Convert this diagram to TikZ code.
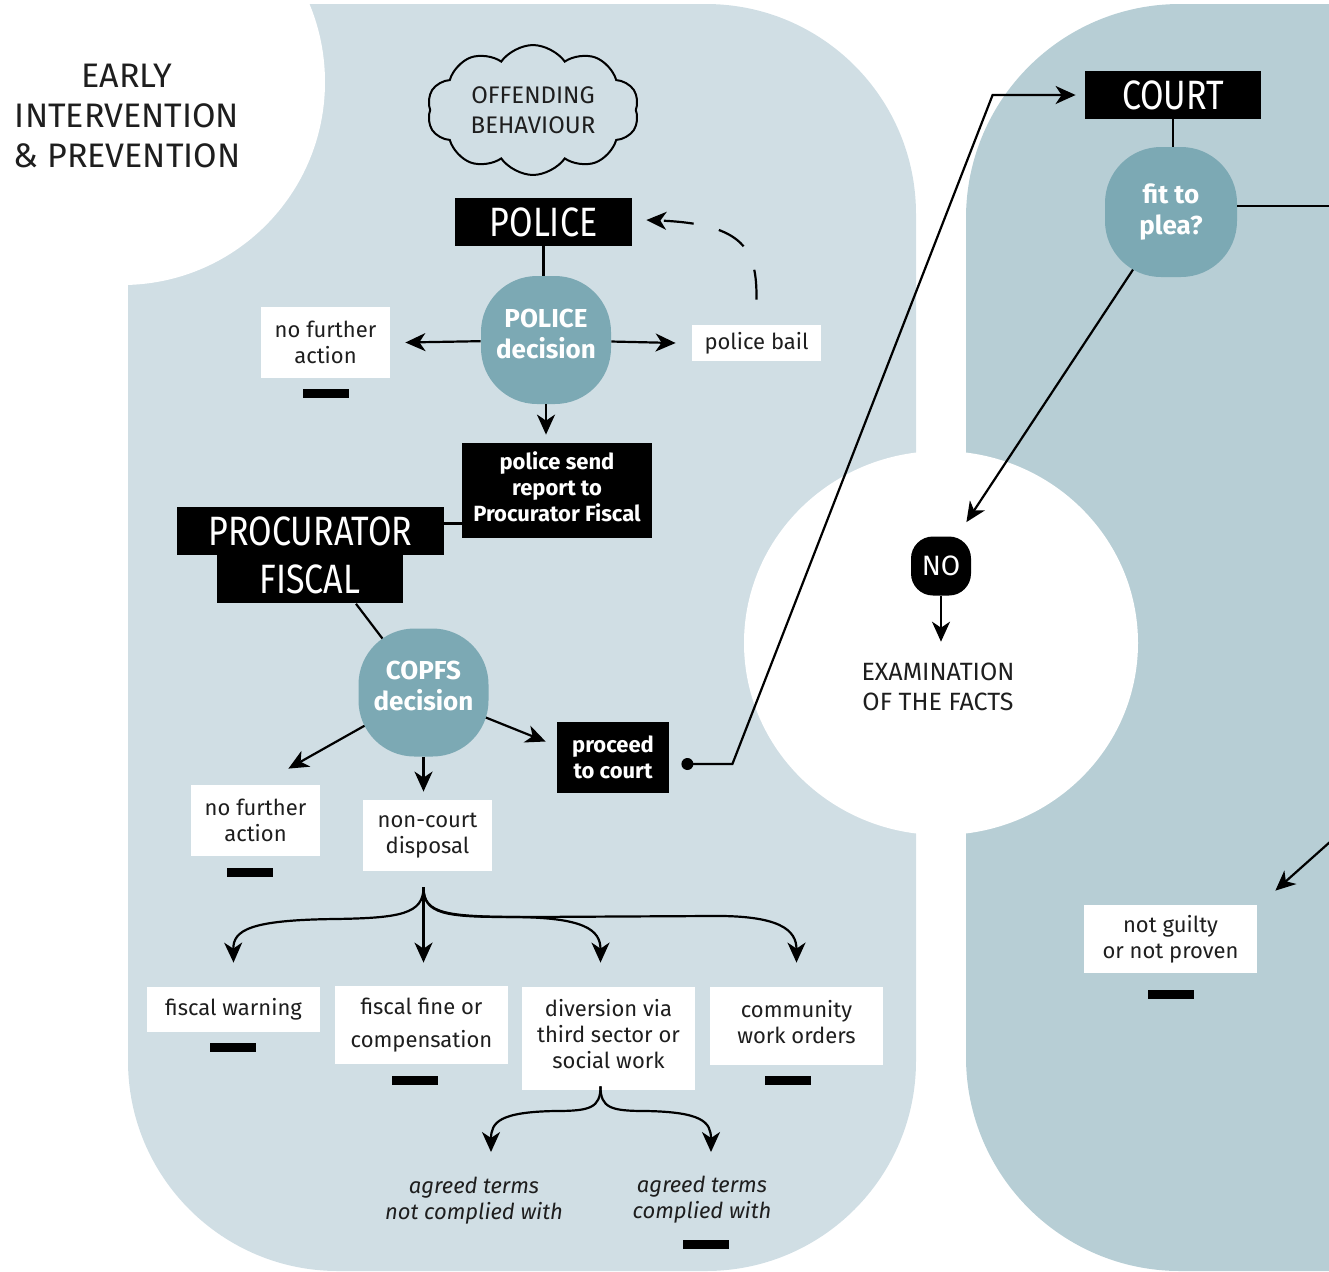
\documentclass[tikz,border=0pt]{standalone}
\usepackage{fontspec}
\setmainfont{Fira Sans}
\newfontfamily\condfont[FakeStretch=0.83]{Fira Sans}
\usetikzlibrary{arrows.meta,positioning,shapes.symbols,calc,backgrounds}
\definecolor{cpanelleft}{HTML}{D0DEE4}
\definecolor{cpanelright}{HTML}{B7CED5}
\definecolor{cdecision}{HTML}{7CA9B4}
\definecolor{ctextdark}{HTML}{1E1E1E}

\begin{document}
\begin{tikzpicture}[
    x=0.5pt, y=-0.5pt,
    arr/.style={-{Stealth[length=10pt,width=9pt,inset=3pt]}, line width=1.1pt},
    link/.style={line width=1.1pt},
    decbox/.style={
        rounded corners=28pt, fill=cdecision,
        minimum width=65pt, minimum height=64pt,
        align=center, text=white, inner sep=0pt,
        font=\bfseries\fontsize{13}{15.5}\selectfont,
    },
    headbox/.style={
        fill=black, text=white, inner sep=0pt,
        minimum height=24pt,
        font=\condfont\fontsize{20.5}{24}\selectfont,
    },
    actbox/.style={
        fill=black, text=white, align=center, inner sep=0pt,
        font=\bfseries\fontsize{11}{13}\selectfont,
    },
    outbox/.style={
        fill=white, text=ctextdark, align=center, inner sep=0pt,
        minimum width=64.5pt, minimum height=35.5pt,
        font=\fontsize{11}{13}\selectfont,
    },
    endbar/.style={fill=black, inner sep=0pt, minimum width=23pt, minimum height=4.5pt},
    termtext/.style={align=center, text=ctextdark, inner sep=0pt,
        font=\itshape\fontsize{11}{13}\selectfont},
]
\useasboundingbox (0,0) rectangle (1329,1271);

% ============================================================
% PANELS
% ============================================================
\begin{scope}[on background layer]
    \clip (0,0) rectangle (1329,1271);
    \fill[cpanelleft, rounded corners=105pt] (128,4) rectangle (916,1271);
    \fill[cpanelleft] (128,4) rectangle (400,300);
    \fill[cpanelright, rounded corners=107pt] (966,4) rectangle (1560,1271);
    \fill[white] (122,82) circle (101.5pt);
    \fill[white] (941,643) ellipse [x radius=98.5pt, y radius=96pt];
\end{scope}

\node[font=\fontsize{17}{20}\selectfont, align=center, text=ctextdark] (title)
    at (127,116) {EARLY\\INTERVENTION\\\& PREVENTION};

% ============================================================
% POLICE
% ============================================================
\node[cloud, draw=black, line width=1pt, cloud puffs=10, cloud puff arc=110,
    aspect=1.65, minimum width=106pt, minimum height=64pt, inner sep=0pt,
    align=center, text=ctextdark, font=\fontsize{12}{15}\selectfont] (offend)
    at (533,110) {OFFENDING\\BEHAVIOUR};

\node[headbox, minimum width=88.5pt] (police) at (543.5,222) {POLICE};
\node[decbox, text depth=6pt] (pdec) at (546,340) {POLICE\\decision};
\node[outbox] (nfa1) at (325.5,342.5) {no further\\action};
\node[endbar] (nfa1end) at (326,393) {};
\node[outbox, minimum height=18pt] (bail) at (756.5,343) {police bail};
\node[actbox, minimum width=95pt, minimum height=47.5pt, text depth=4pt] (report)
    at (557,490.5) {police send\\report to\\Procurator Fiscal};

\draw[link] (police.south) -- (police.south |- pdec.north);
\draw[arr] (pdec) -- ([xshift=7.5pt]nfa1.east);
\draw[arr] (pdec) -- ([xshift=-8pt]bail.west);
\draw[arr] (pdec.south) -- ($(pdec.south |- report.north)+(0,-8)$);
\draw[arr, dash pattern=on 15pt off 13pt] ($(bail.north)+(0,-25)$)
    .. controls (757,250) and (745,224) .. ($(police.east)+(14,-2)$);

% ============================================================
% PROCURATOR FISCAL
% ============================================================
\node[headbox, minimum width=133.5pt] (proc) at (310.5,531) {PROCURATOR};
\node[headbox, minimum width=93pt, anchor=north] (fiscal) at (310,555) {FISCAL};
\node[decbox, text depth=7pt] (copfs) at (423.5,692.5) {COPFS\\decision};
\node[outbox] (nfa2) at (255.5,820.5) {no further\\action};
\node[endbar] (nfa2end) at (250,872) {};
\node[outbox] (noncourt) at (427.5,835.5) {non-court\\disposal};
\node[actbox, minimum width=56pt, minimum height=35.5pt] (proceed)
    at (613,757.5) {proceed\\to court};

\coordinate (rj) at ($(report.south west)+(0,-15)$);
\draw[link] (rj) -- (rj -| proc.east);
\begin{scope}[on background layer]
    \draw[link] ([xshift=23pt]fiscal.south) -- (copfs.center);
    \draw[arr] (copfs.center) -- ($(nfa2.north east)+(-32,-16)$);
    \draw[arr] (copfs.center) -- ($(proceed.west)+(-11,-16)$);
\end{scope}
\draw[arr] (copfs.south) -- ($(copfs.south |- noncourt.north)+(0,-8)$);

% non-court disposals
\node[outbox, minimum width=86.5pt, minimum height=22.5pt] (warn)
    at (233.5,1009.5) {fiscal warning};
\node[endbar] (warnend) at (233,1047) {};
\node[outbox, minimum width=86.5pt, minimum height=39pt,
    font=\fontsize{11}{16.5}\selectfont] (fine)
    at (421.5,1025) {fiscal fine or\\compensation};
\node[endbar] (fineend) at (415,1080) {};
\node[outbox, minimum width=86.5pt, minimum height=51.5pt, text depth=4.5pt] (divert)
    at (608.5,1038.5) {diversion via\\third sector or\\social work};
\node[outbox, minimum width=86.5pt, minimum height=39pt, text depth=4pt] (cwo)
    at (796.5,1026) {community\\work orders};
\node[endbar] (cwoend) at (788,1080) {};
\node[termtext] (notcomp) at (474,1201) {agreed terms\\not complied with};
\node[termtext] (comp) at (702,1200) {agreed terms\\complied with};
\node[endbar] (compend) at (706,1244) {};

\coordinate (ncsplit) at ($(noncourt.south)+(-4,16)$);
\draw[arr] (ncsplit) .. controls (423.5,914) and (400,918) .. (335,919)
    .. controls (250,920) and (233,930) .. ($(warn.north)+(0,-24)$);
\draw[arr] (ncsplit) -- ($(ncsplit |- fine.north)+(0,-23)$);
\draw[arr] (ncsplit) .. controls (423.5,914) and (445,917) .. (510,917)
    .. controls (585,917) and (600.5,930) .. ($(divert.north)+(-8,-24)$);
\draw[arr] (ncsplit) .. controls (423.5,914) and (445,917) .. (530,917) -- (710,916)
    .. controls (780,915) and (796.5,930) .. ($(cwo.north)+(0,-24)$);

\coordinate (dvsplit) at ($(divert.south)+(-8,-4)$);
\draw[arr] (dvsplit) .. controls (600.5,1108) and (590,1111) .. (555,1111)
    .. controls (500,1112) and (491,1122) .. ($(notcomp)+(17,-49)$);
\draw[arr] (dvsplit) .. controls (600.5,1108) and (611,1111) .. (646,1111)
    .. controls (702,1112) and (711,1122) .. ($(comp)+(9,-48)$);

% ============================================================
% COURT
% ============================================================
\node[headbox, minimum width=88pt] (court) at (1173,95) {COURT};
\node[decbox, minimum width=66pt, minimum height=65pt] (plea) at (1171,212) {fit to\\plea?};
\node[fill=black, text=white, rounded corners=11pt, minimum width=30pt,
    minimum height=29.5pt, inner sep=0pt, font=\fontsize{14}{16}\selectfont] (no)
    at (941,566) {NO};
\node[align=center, text=ctextdark, inner sep=0pt,
    font=\fontsize{12.5}{15}\selectfont] (exam) at (938,687) {EXAMINATION\\OF THE FACTS};
\node[outbox, minimum width=86.5pt, minimum height=34pt] (ngnp)
    at (1170.5,939) {not guilty\\or not proven};
\node[endbar] (ngnpend) at (1171,994) {};

\coordinate (dot) at ($(proceed.east)+(18,6.5)$);
\fill (dot) circle (3pt);
\draw[arr] (dot) -- ++(45,0) -- ($(court.west)+(-92,0)$) -- ($(court.west)+(-9,0)$);

\draw[link] (court.south) -- (court.south |- plea.north);
\begin{scope}[on background layer]
    \draw[arr] (plea.center) -- ($(no.north east)+(-5,-14)$);
\end{scope}
\coordinate (pleaout) at (1340,206);
\draw[link] (plea.east |- pleaout) -- (pleaout);
\draw[arr] (no) -- ($(no.south |- exam.north)+(0,-21)$);

\coordinate (ngin) at (1340,833);
\draw[arr] (ngin) -- ($(ngnp.north east)+(18,-14)$);

\end{tikzpicture}
\end{document}
